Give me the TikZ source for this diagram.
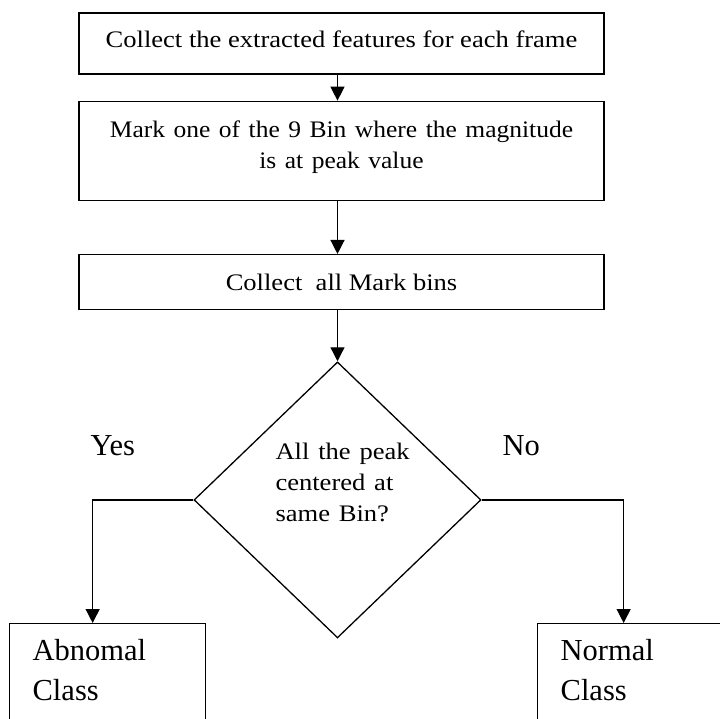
\documentclass[tikz,border=0pt]{standalone}
\usepackage{fontspec}
\setmainfont{Liberation Serif}
\usetikzlibrary{positioning,shapes.geometric,arrows.meta}
\newcommand\wideline[2][1.12]{\scalebox{#1}[1]{#2}}

\begin{document}
\begin{tikzpicture}[x=1pt, y=-1pt, line width=1.3pt,
                    box node/.style={rectangle,draw,minimum width=525pt,inner sep=0pt,text height=16pt,text depth=0pt,font=\fontsize{23.7}{31}\selectfont},
                    dec node/.style={diamond,draw,minimum width=287pt,minimum height=276pt,inner sep=0pt,text width=134pt,align=left,text height=16pt,text depth=96pt,font=\fontsize{23.7}{31}\selectfont},
                    class node/.style={rectangle,draw,anchor=north west,minimum width=196pt,inner xsep=23pt,inner ysep=16pt,text width=150pt,align=left,text height=21pt,text depth=100pt,font=\fontsize{30.5}{40}\selectfont},
                    side label/.style={anchor=base west,inner sep=0pt,font=\fontsize{30.5}{40}\selectfont},
                    flow/.style={-{Triangle[length=14pt,width=14pt]}}]

\useasboundingbox (0,0) rectangle (720,718);
\clip (0,0) rectangle (720,718);

\node[box node,minimum height=61pt,text depth=9pt] (1) at (341.5,43.5) {\wideline{Collect the extracted features for each frame}};
  \node[box node,minimum height=99pt,text width=500pt,align=center,text depth=43pt] (2) [below=26pt of 1] {\wideline[1.076]{Mark one of the 9 Bin where the magnitude}\\\wideline[1.076]{is at peak value}};
    \node[box node,minimum height=55pt] (3) [below=53pt of 2] {\wideline{Collect\ \ all Mark bins}};
      \node[dec node] (4) [below=51pt of 3,xshift=-4pt] {\hspace*{5pt}\wideline{All the peak}\\\hspace*{5pt}\wideline{centered at}\\\hspace*{5pt}\wideline{same Bin?}};
        \node[class node] (5) at (9,623) {Abnomal\\Class};
          \node[class node] (6) at (537,623) {Normal\\Class};
\node[side label] (7) at (90,455) {Yes};
\node[side label] (8) at (502,455) {No};

\draw[flow] (1.south -| 4.north) -- (2.north -| 4.north);
\draw[flow] (2.south -| 4.north) -- (3.north -| 4.north);
\draw[flow] (3.south -| 4.north) -- (4.north);
\draw[flow] (4.west) -| ([xshift=-15pt]5.north);
\draw[flow] (4.east) -| ([xshift=-12pt]6.north);

\end{tikzpicture}
\end{document}
